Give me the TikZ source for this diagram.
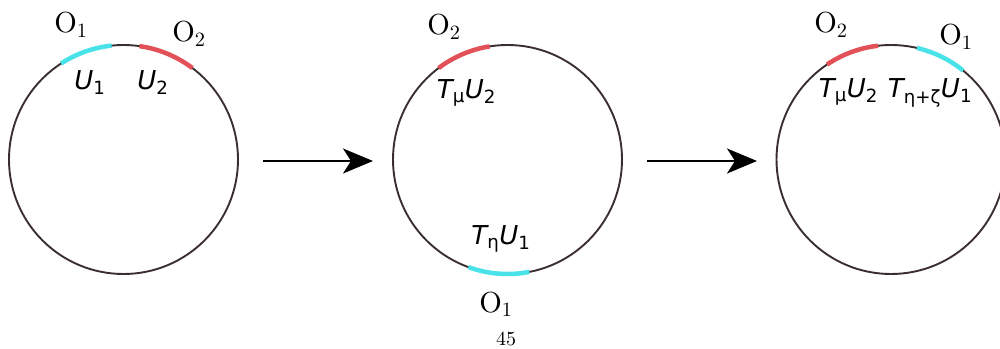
\documentclass[tikz,border=0pt]{standalone}
\usepackage{fontspec}
\newfontfamily\dejavu{DejaVu Sans}
\newfontfamily\lmten{lmroman10-regular.otf}
\usetikzlibrary{arrows.meta}
\newcommand{\Osub}[1]{{\lmten\fontsize{29}{31}\selectfont O\textsubscript{#1}}}
\newcommand{\Slab}[1]{{\dejavu\fontsize{26}{29}\selectfont\itshape #1}}
\newcommand{\sub}[1]{\textsubscript{\upshape #1}}
\begin{document}
\begin{tikzpicture}[x=1pt,y=1pt,
  ring/.style={draw={rgb,255:red,58;green,46;blue,46}, line width=1.9pt},
  cyanarc/.style={draw={rgb,255:red,72;green,226;blue,232}, line width=4.5pt},
  redarc/.style={draw={rgb,255:red,226;green,80;blue,88}, line width=4.5pt},
  lab/.style={inner sep=0pt, anchor=base},
  flow/.style={line width=2.2pt, -{Stealth[length=30pt,width=25pt,inset=8pt]}}]
\useasboundingbox (0,0) rectangle (1000,348);
\clip (0,0) rectangle (1000,348);
% circles
\coordinate (c1) at (123.5,188.5);
\coordinate (c2) at (507.5,188.5);
\coordinate (c3) at (891,188.5);
\draw[ring] (c1) circle[radius=114.5];
\draw[ring] (c2) circle[radius=114.5];
\draw[ring] (c3) circle[radius=114.5];
% arcs circle 1
\draw[cyanarc] ([shift={(96:114.5)}]c1) arc[start angle=96,end angle=123,radius=114.5];
\draw[redarc] ([shift={(53:114.5)}]c1) arc[start angle=53,end angle=82,radius=114.5];
% arcs circle 2
\draw[redarc] ([shift={(99:114.5)}]c2) arc[start angle=99,end angle=127,radius=114.5];
\draw[cyanarc] ([shift={(250:114.5)}]c2) arc[start angle=250,end angle=281,radius=114.5];
% arcs circle 3
\draw[redarc] ([shift={(96.5:114.5)}]c3) arc[start angle=96.5,end angle=124,radius=114.5];
\draw[cyanarc] ([shift={(51:114.5)}]c3) arc[start angle=51,end angle=77,radius=114.5];
% labels circle 1
\node[lab] (o11) at (71,315) {\Osub{1}};
\node[lab] (o12) at (189,306) {\Osub{2}};
\node[lab] (u11) at (90,258) {\Slab{U\sub{1}}};
\node[lab] (u12) at (153,258) {\Slab{U\sub{2}}};
% labels circle 2
\node[lab] (o22) at (444,313) {\Osub{2}};
\node[lab] (u22) at (466.5,249) {\Slab{T\sub{μ}U\sub{2}}};
\node[lab] (u21) at (501,103) {\Slab{T\sub{η}U\sub{1}}};
\node[lab] (o21) at (496,36) {\Osub{1}};
\node[lab] (pg) at (506,3) {\lmten\fontsize{20}{22}\selectfont 45};
% labels circle 3
\node[lab] (o32) at (831,315) {\Osub{2}};
\node[lab] (o31) at (956,303) {\Osub{1}};
\node[lab] (u32) at (848.5,250) {\Slab{T\sub{μ}U\sub{2}}};
\node[lab] (u31) at (930,250) {\Slab{T\sub{η+ζ}U\sub{1}}};
% arrows
\coordinate (a1s) at (263,187);
\coordinate (a1e) at (373,187);
\coordinate (a2s) at (647,187);
\coordinate (a2e) at (757,187);
\draw[flow] (a1s) -- (a1e);
\draw[flow] (a2s) -- (a2e);
\end{tikzpicture}
\end{document}
